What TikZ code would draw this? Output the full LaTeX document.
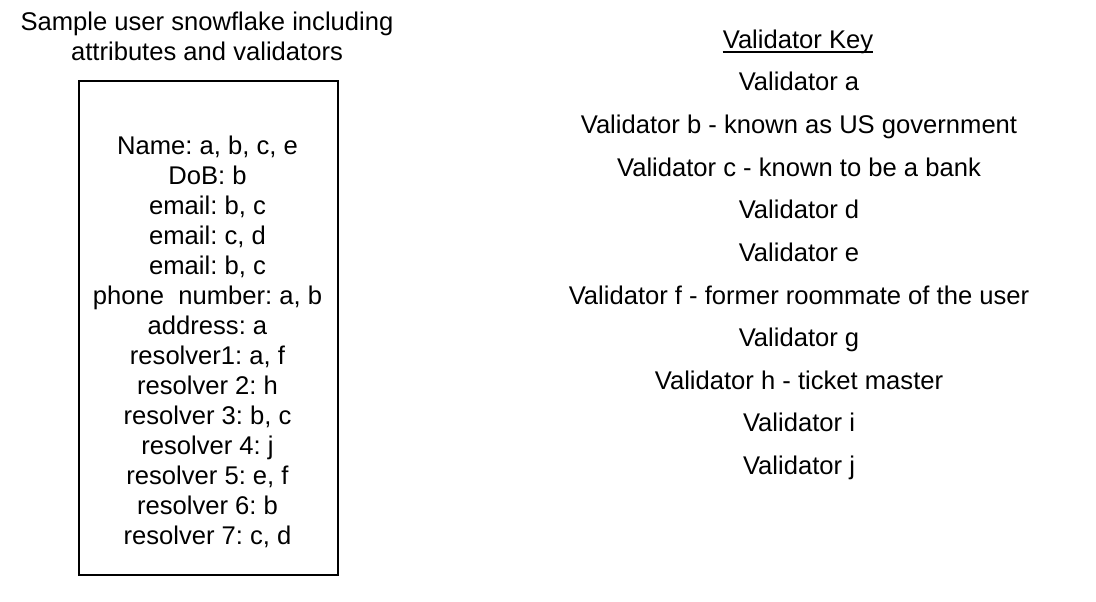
\documentclass[tikz,border=0pt]{standalone}
\usepackage{fontspec}
\setmainfont{Liberation Sans}
\frenchspacing
\begin{document}
\begin{tikzpicture}[x=1pt,y=-1pt,
  txt/.style={font=\fontsize{25.6}{30}\selectfont\frenchspacing, inner sep=0pt, anchor=base},
  snowbox/.style={draw, line width=1.6pt, minimum width=259pt, minimum height=494pt, anchor=north west, inner sep=0pt}]
\useasboundingbox (0,0) rectangle (1096,602);
% title
\node[txt] (t1) at (207,31) {Sample user snowflake including};
\node[txt] (t2) at (207,61) {attributes and validators};
% box
\node[snowbox] (box) at (78,80) {};
\foreach \i/\s in {0/{Name: a, b, c, e},1/{DoB: b},2/{email: b, c},3/{email: c, d},4/{email: b, c},5/{phone\ \ number: a, b},6/{address: a},7/{resolver1: a, f},8/{resolver 2: h},9/{resolver 3: b, c},10/{resolver 4: j},11/{resolver 5: e, f},12/{resolver 6: b},13/{resolver 7: c, d}}
  \node[txt] (l\i) at (207.5,{154+30*\i}) {\s};
% key
\node[txt] (key) at (798,49) {Validator Key};
\draw[line width=1.3pt] ([yshift=-3pt]key.base west) -- ([yshift=-3pt]key.base east);
\foreach \i/\s in {0/{Validator a},1/{Validator b - known as US government},2/{Validator c - known to be a bank},3/{Validator d},4/{Validator e},5/{Validator f - former roommate of the user},6/{Validator g},7/{Validator h - ticket master},8/{Validator i},9/{Validator j}}
  \node[txt] (k\i) at (799,{91+42.6*\i}) {\s};
\end{tikzpicture}
\end{document}
